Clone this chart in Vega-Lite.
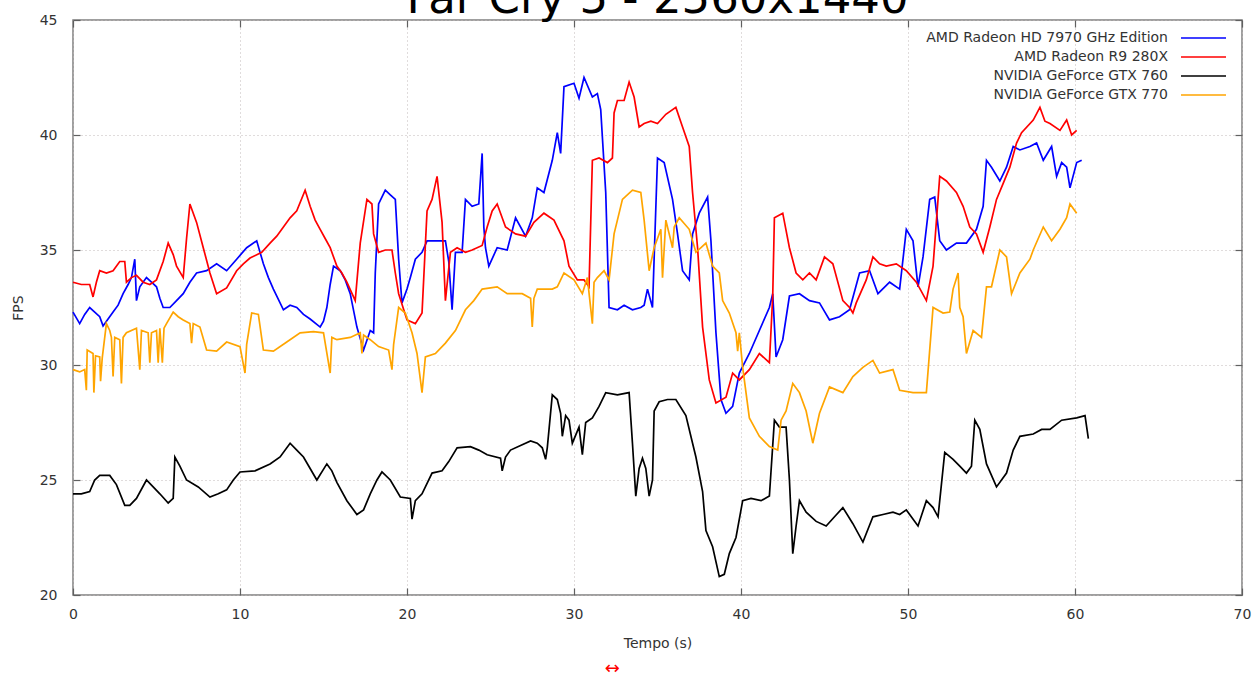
{
  "$schema": "https://vega.github.io/schema/vega-lite/v6.json",
  "width": 1169,
  "height": 575,
  "autosize": "none",
  "padding": {"left": 73, "top": 20, "right": 15, "bottom": 80},
  "background": "white",
  "title": {
    "text": "Far Cry 5 - 2560x1440",
    "font": "DejaVu Sans",
    "fontSize": 45,
    "fontWeight": "normal",
    "color": "#000000",
    "anchor": "middle",
    "baseline": "alphabetic",
    "frame": "group",
    "offset": -45
  },
  "config": {
    "view": {"stroke": "#808080", "strokeWidth": 1.5},
    "font": "DejaVu Sans",
    "axis": {
      "domain": false,
      "labelFont": "DejaVu Sans",
      "labelFontSize": 14,
      "labelColor": "#333333",
      "titleFont": "DejaVu Sans",
      "titleFontSize": 14,
      "titleFontWeight": "normal",
      "titleColor": "#333333",
      "tickColor": "#606060",
      "tickWidth": 1.2,
      "gridColor": "#c0b8b8",
      "gridDash": [1, 3],
      "gridWidth": 1
    }
  },
  "data": {
    "values": [
      {"card": "AMD Radeon HD 7970 GHz Edition", "t": 0, "fps": 32.3},
      {"card": "AMD Radeon HD 7970 GHz Edition", "t": 0.4, "fps": 31.8},
      {"card": "AMD Radeon HD 7970 GHz Edition", "t": 0.7, "fps": 32.2},
      {"card": "AMD Radeon HD 7970 GHz Edition", "t": 1.0, "fps": 32.5},
      {"card": "AMD Radeon HD 7970 GHz Edition", "t": 1.3, "fps": 32.3},
      {"card": "AMD Radeon HD 7970 GHz Edition", "t": 1.6, "fps": 32.1},
      {"card": "AMD Radeon HD 7970 GHz Edition", "t": 1.8, "fps": 31.7},
      {"card": "AMD Radeon HD 7970 GHz Edition", "t": 2.1, "fps": 32.0},
      {"card": "AMD Radeon HD 7970 GHz Edition", "t": 2.4, "fps": 32.3},
      {"card": "AMD Radeon HD 7970 GHz Edition", "t": 2.7, "fps": 32.6},
      {"card": "AMD Radeon HD 7970 GHz Edition", "t": 3.0, "fps": 33.1},
      {"card": "AMD Radeon HD 7970 GHz Edition", "t": 3.3, "fps": 33.5},
      {"card": "AMD Radeon HD 7970 GHz Edition", "t": 3.5, "fps": 33.8},
      {"card": "AMD Radeon HD 7970 GHz Edition", "t": 3.7, "fps": 34.6},
      {"card": "AMD Radeon HD 7970 GHz Edition", "t": 3.8, "fps": 32.8},
      {"card": "AMD Radeon HD 7970 GHz Edition", "t": 4.0, "fps": 33.4},
      {"card": "AMD Radeon HD 7970 GHz Edition", "t": 4.4, "fps": 33.8},
      {"card": "AMD Radeon HD 7970 GHz Edition", "t": 4.7, "fps": 33.6},
      {"card": "AMD Radeon HD 7970 GHz Edition", "t": 5.0, "fps": 33.4},
      {"card": "AMD Radeon HD 7970 GHz Edition", "t": 5.2, "fps": 32.9},
      {"card": "AMD Radeon HD 7970 GHz Edition", "t": 5.4, "fps": 32.5},
      {"card": "AMD Radeon HD 7970 GHz Edition", "t": 5.8, "fps": 32.5},
      {"card": "AMD Radeon HD 7970 GHz Edition", "t": 6.2, "fps": 32.8},
      {"card": "AMD Radeon HD 7970 GHz Edition", "t": 6.6, "fps": 33.1},
      {"card": "AMD Radeon HD 7970 GHz Edition", "t": 7.0, "fps": 33.6},
      {"card": "AMD Radeon HD 7970 GHz Edition", "t": 7.4, "fps": 34.0},
      {"card": "AMD Radeon HD 7970 GHz Edition", "t": 8.0, "fps": 34.1},
      {"card": "AMD Radeon HD 7970 GHz Edition", "t": 8.6, "fps": 34.4},
      {"card": "AMD Radeon HD 7970 GHz Edition", "t": 9.2, "fps": 34.1},
      {"card": "AMD Radeon HD 7970 GHz Edition", "t": 9.8, "fps": 34.6},
      {"card": "AMD Radeon HD 7970 GHz Edition", "t": 10.4, "fps": 35.1},
      {"card": "AMD Radeon HD 7970 GHz Edition", "t": 11.0, "fps": 35.4},
      {"card": "AMD Radeon HD 7970 GHz Edition", "t": 11.4, "fps": 34.4},
      {"card": "AMD Radeon HD 7970 GHz Edition", "t": 11.7, "fps": 33.8},
      {"card": "AMD Radeon HD 7970 GHz Edition", "t": 12.0, "fps": 33.3},
      {"card": "AMD Radeon HD 7970 GHz Edition", "t": 12.6, "fps": 32.4},
      {"card": "AMD Radeon HD 7970 GHz Edition", "t": 13.0, "fps": 32.6},
      {"card": "AMD Radeon HD 7970 GHz Edition", "t": 13.4, "fps": 32.5},
      {"card": "AMD Radeon HD 7970 GHz Edition", "t": 13.8, "fps": 32.2},
      {"card": "AMD Radeon HD 7970 GHz Edition", "t": 14.2, "fps": 32.0},
      {"card": "AMD Radeon HD 7970 GHz Edition", "t": 14.8, "fps": 31.65},
      {"card": "AMD Radeon HD 7970 GHz Edition", "t": 15.0, "fps": 31.9},
      {"card": "AMD Radeon HD 7970 GHz Edition", "t": 15.2, "fps": 32.5},
      {"card": "AMD Radeon HD 7970 GHz Edition", "t": 15.4, "fps": 33.5},
      {"card": "AMD Radeon HD 7970 GHz Edition", "t": 15.6, "fps": 34.3},
      {"card": "AMD Radeon HD 7970 GHz Edition", "t": 16.0, "fps": 34.1},
      {"card": "AMD Radeon HD 7970 GHz Edition", "t": 16.3, "fps": 33.7},
      {"card": "AMD Radeon HD 7970 GHz Edition", "t": 16.6, "fps": 33.1},
      {"card": "AMD Radeon HD 7970 GHz Edition", "t": 17.0, "fps": 31.65},
      {"card": "AMD Radeon HD 7970 GHz Edition", "t": 17.4, "fps": 30.65},
      {"card": "AMD Radeon HD 7970 GHz Edition", "t": 17.8, "fps": 31.5},
      {"card": "AMD Radeon HD 7970 GHz Edition", "t": 18.0, "fps": 31.4},
      {"card": "AMD Radeon HD 7970 GHz Edition", "t": 18.1, "fps": 34.0},
      {"card": "AMD Radeon HD 7970 GHz Edition", "t": 18.3, "fps": 37.0},
      {"card": "AMD Radeon HD 7970 GHz Edition", "t": 18.7, "fps": 37.6},
      {"card": "AMD Radeon HD 7970 GHz Edition", "t": 19.0, "fps": 37.4},
      {"card": "AMD Radeon HD 7970 GHz Edition", "t": 19.3, "fps": 37.2},
      {"card": "AMD Radeon HD 7970 GHz Edition", "t": 19.5, "fps": 34.6},
      {"card": "AMD Radeon HD 7970 GHz Edition", "t": 19.7, "fps": 32.7},
      {"card": "AMD Radeon HD 7970 GHz Edition", "t": 20.0, "fps": 33.3},
      {"card": "AMD Radeon HD 7970 GHz Edition", "t": 20.2, "fps": 33.8},
      {"card": "AMD Radeon HD 7970 GHz Edition", "t": 20.5, "fps": 34.6},
      {"card": "AMD Radeon HD 7970 GHz Edition", "t": 20.9, "fps": 34.9},
      {"card": "AMD Radeon HD 7970 GHz Edition", "t": 21.2, "fps": 35.4},
      {"card": "AMD Radeon HD 7970 GHz Edition", "t": 21.8, "fps": 35.4},
      {"card": "AMD Radeon HD 7970 GHz Edition", "t": 22.3, "fps": 35.4},
      {"card": "AMD Radeon HD 7970 GHz Edition", "t": 22.5, "fps": 34.5},
      {"card": "AMD Radeon HD 7970 GHz Edition", "t": 22.7, "fps": 32.4},
      {"card": "AMD Radeon HD 7970 GHz Edition", "t": 22.9, "fps": 34.9},
      {"card": "AMD Radeon HD 7970 GHz Edition", "t": 23.3, "fps": 34.9},
      {"card": "AMD Radeon HD 7970 GHz Edition", "t": 23.5, "fps": 37.2},
      {"card": "AMD Radeon HD 7970 GHz Edition", "t": 23.9, "fps": 36.9},
      {"card": "AMD Radeon HD 7970 GHz Edition", "t": 24.3, "fps": 37.0},
      {"card": "AMD Radeon HD 7970 GHz Edition", "t": 24.5, "fps": 39.2},
      {"card": "AMD Radeon HD 7970 GHz Edition", "t": 24.6, "fps": 36.0},
      {"card": "AMD Radeon HD 7970 GHz Edition", "t": 24.7, "fps": 35.1},
      {"card": "AMD Radeon HD 7970 GHz Edition", "t": 24.9, "fps": 34.3},
      {"card": "AMD Radeon HD 7970 GHz Edition", "t": 25.4, "fps": 35.1},
      {"card": "AMD Radeon HD 7970 GHz Edition", "t": 26.0, "fps": 35.0},
      {"card": "AMD Radeon HD 7970 GHz Edition", "t": 26.5, "fps": 36.4},
      {"card": "AMD Radeon HD 7970 GHz Edition", "t": 27.1, "fps": 35.6},
      {"card": "AMD Radeon HD 7970 GHz Edition", "t": 27.5, "fps": 36.4},
      {"card": "AMD Radeon HD 7970 GHz Edition", "t": 27.8, "fps": 37.7},
      {"card": "AMD Radeon HD 7970 GHz Edition", "t": 28.2, "fps": 37.5},
      {"card": "AMD Radeon HD 7970 GHz Edition", "t": 28.7, "fps": 38.9},
      {"card": "AMD Radeon HD 7970 GHz Edition", "t": 29.0, "fps": 40.1},
      {"card": "AMD Radeon HD 7970 GHz Edition", "t": 29.2, "fps": 39.2},
      {"card": "AMD Radeon HD 7970 GHz Edition", "t": 29.4, "fps": 42.1},
      {"card": "AMD Radeon HD 7970 GHz Edition", "t": 30.0, "fps": 42.25},
      {"card": "AMD Radeon HD 7970 GHz Edition", "t": 30.3, "fps": 41.6},
      {"card": "AMD Radeon HD 7970 GHz Edition", "t": 30.6, "fps": 42.5},
      {"card": "AMD Radeon HD 7970 GHz Edition", "t": 31.1, "fps": 41.65},
      {"card": "AMD Radeon HD 7970 GHz Edition", "t": 31.4, "fps": 41.8},
      {"card": "AMD Radeon HD 7970 GHz Edition", "t": 31.6, "fps": 41.1},
      {"card": "AMD Radeon HD 7970 GHz Edition", "t": 31.9, "fps": 37.5},
      {"card": "AMD Radeon HD 7970 GHz Edition", "t": 32.1, "fps": 32.5},
      {"card": "AMD Radeon HD 7970 GHz Edition", "t": 32.6, "fps": 32.4},
      {"card": "AMD Radeon HD 7970 GHz Edition", "t": 33.0, "fps": 32.6},
      {"card": "AMD Radeon HD 7970 GHz Edition", "t": 33.5, "fps": 32.4},
      {"card": "AMD Radeon HD 7970 GHz Edition", "t": 34.0, "fps": 32.5},
      {"card": "AMD Radeon HD 7970 GHz Edition", "t": 34.2, "fps": 32.6},
      {"card": "AMD Radeon HD 7970 GHz Edition", "t": 34.4, "fps": 33.3},
      {"card": "AMD Radeon HD 7970 GHz Edition", "t": 34.7, "fps": 32.5},
      {"card": "AMD Radeon HD 7970 GHz Edition", "t": 35.0, "fps": 39.0},
      {"card": "AMD Radeon HD 7970 GHz Edition", "t": 35.4, "fps": 38.8},
      {"card": "AMD Radeon HD 7970 GHz Edition", "t": 35.9, "fps": 37.2},
      {"card": "AMD Radeon HD 7970 GHz Edition", "t": 36.2, "fps": 35.7},
      {"card": "AMD Radeon HD 7970 GHz Edition", "t": 36.5, "fps": 34.1},
      {"card": "AMD Radeon HD 7970 GHz Edition", "t": 36.9, "fps": 33.7},
      {"card": "AMD Radeon HD 7970 GHz Edition", "t": 37.1, "fps": 35.7},
      {"card": "AMD Radeon HD 7970 GHz Edition", "t": 37.5, "fps": 36.6},
      {"card": "AMD Radeon HD 7970 GHz Edition", "t": 38.0, "fps": 37.3},
      {"card": "AMD Radeon HD 7970 GHz Edition", "t": 38.2, "fps": 35.4},
      {"card": "AMD Radeon HD 7970 GHz Edition", "t": 38.5, "fps": 31.4},
      {"card": "AMD Radeon HD 7970 GHz Edition", "t": 38.8, "fps": 28.5},
      {"card": "AMD Radeon HD 7970 GHz Edition", "t": 39.1, "fps": 27.9},
      {"card": "AMD Radeon HD 7970 GHz Edition", "t": 39.5, "fps": 28.2},
      {"card": "AMD Radeon HD 7970 GHz Edition", "t": 39.9, "fps": 29.65},
      {"card": "AMD Radeon HD 7970 GHz Edition", "t": 40.5, "fps": 30.5},
      {"card": "AMD Radeon HD 7970 GHz Edition", "t": 41.1, "fps": 31.5},
      {"card": "AMD Radeon HD 7970 GHz Edition", "t": 41.7, "fps": 32.5},
      {"card": "AMD Radeon HD 7970 GHz Edition", "t": 41.9, "fps": 33.1},
      {"card": "AMD Radeon HD 7970 GHz Edition", "t": 42.1, "fps": 30.35},
      {"card": "AMD Radeon HD 7970 GHz Edition", "t": 42.5, "fps": 31.1},
      {"card": "AMD Radeon HD 7970 GHz Edition", "t": 42.9, "fps": 33.0},
      {"card": "AMD Radeon HD 7970 GHz Edition", "t": 43.5, "fps": 33.1},
      {"card": "AMD Radeon HD 7970 GHz Edition", "t": 44.1, "fps": 32.8},
      {"card": "AMD Radeon HD 7970 GHz Edition", "t": 44.7, "fps": 32.7},
      {"card": "AMD Radeon HD 7970 GHz Edition", "t": 45.3, "fps": 31.96},
      {"card": "AMD Radeon HD 7970 GHz Edition", "t": 45.9, "fps": 32.1},
      {"card": "AMD Radeon HD 7970 GHz Edition", "t": 46.5, "fps": 32.4},
      {"card": "AMD Radeon HD 7970 GHz Edition", "t": 47.1, "fps": 34.0},
      {"card": "AMD Radeon HD 7970 GHz Edition", "t": 47.7, "fps": 34.1},
      {"card": "AMD Radeon HD 7970 GHz Edition", "t": 48.2, "fps": 33.1},
      {"card": "AMD Radeon HD 7970 GHz Edition", "t": 48.9, "fps": 33.6},
      {"card": "AMD Radeon HD 7970 GHz Edition", "t": 49.5, "fps": 33.3},
      {"card": "AMD Radeon HD 7970 GHz Edition", "t": 49.9, "fps": 35.9},
      {"card": "AMD Radeon HD 7970 GHz Edition", "t": 50.3, "fps": 35.4},
      {"card": "AMD Radeon HD 7970 GHz Edition", "t": 50.6, "fps": 33.4},
      {"card": "AMD Radeon HD 7970 GHz Edition", "t": 50.9, "fps": 34.7},
      {"card": "AMD Radeon HD 7970 GHz Edition", "t": 51.3, "fps": 37.2},
      {"card": "AMD Radeon HD 7970 GHz Edition", "t": 51.6, "fps": 37.3},
      {"card": "AMD Radeon HD 7970 GHz Edition", "t": 51.9, "fps": 35.4},
      {"card": "AMD Radeon HD 7970 GHz Edition", "t": 52.3, "fps": 35.0},
      {"card": "AMD Radeon HD 7970 GHz Edition", "t": 52.9, "fps": 35.3},
      {"card": "AMD Radeon HD 7970 GHz Edition", "t": 53.5, "fps": 35.3},
      {"card": "AMD Radeon HD 7970 GHz Edition", "t": 54.1, "fps": 35.9},
      {"card": "AMD Radeon HD 7970 GHz Edition", "t": 54.5, "fps": 36.9},
      {"card": "AMD Radeon HD 7970 GHz Edition", "t": 54.7, "fps": 38.9},
      {"card": "AMD Radeon HD 7970 GHz Edition", "t": 55.0, "fps": 38.6},
      {"card": "AMD Radeon HD 7970 GHz Edition", "t": 55.5, "fps": 38.0},
      {"card": "AMD Radeon HD 7970 GHz Edition", "t": 55.9, "fps": 38.6},
      {"card": "AMD Radeon HD 7970 GHz Edition", "t": 56.3, "fps": 39.5},
      {"card": "AMD Radeon HD 7970 GHz Edition", "t": 56.7, "fps": 39.35},
      {"card": "AMD Radeon HD 7970 GHz Edition", "t": 57.3, "fps": 39.5},
      {"card": "AMD Radeon HD 7970 GHz Edition", "t": 57.7, "fps": 39.65},
      {"card": "AMD Radeon HD 7970 GHz Edition", "t": 58.1, "fps": 38.9},
      {"card": "AMD Radeon HD 7970 GHz Edition", "t": 58.6, "fps": 39.5},
      {"card": "AMD Radeon HD 7970 GHz Edition", "t": 58.9, "fps": 38.2},
      {"card": "AMD Radeon HD 7970 GHz Edition", "t": 59.2, "fps": 38.8},
      {"card": "AMD Radeon HD 7970 GHz Edition", "t": 59.5, "fps": 38.6},
      {"card": "AMD Radeon HD 7970 GHz Edition", "t": 59.7, "fps": 37.7},
      {"card": "AMD Radeon HD 7970 GHz Edition", "t": 60.1, "fps": 38.8},
      {"card": "AMD Radeon HD 7970 GHz Edition", "t": 60.4, "fps": 38.9},

      {"card": "AMD Radeon R9 280X", "t": 0, "fps": 33.6},
      {"card": "AMD Radeon R9 280X", "t": 0.5, "fps": 33.5},
      {"card": "AMD Radeon R9 280X", "t": 1.0, "fps": 33.5},
      {"card": "AMD Radeon R9 280X", "t": 1.2, "fps": 32.96},
      {"card": "AMD Radeon R9 280X", "t": 1.4, "fps": 33.6},
      {"card": "AMD Radeon R9 280X", "t": 1.6, "fps": 34.1},
      {"card": "AMD Radeon R9 280X", "t": 2.0, "fps": 34.0},
      {"card": "AMD Radeon R9 280X", "t": 2.4, "fps": 34.1},
      {"card": "AMD Radeon R9 280X", "t": 2.8, "fps": 34.5},
      {"card": "AMD Radeon R9 280X", "t": 3.1, "fps": 34.5},
      {"card": "AMD Radeon R9 280X", "t": 3.2, "fps": 33.6},
      {"card": "AMD Radeon R9 280X", "t": 3.5, "fps": 33.8},
      {"card": "AMD Radeon R9 280X", "t": 3.8, "fps": 33.9},
      {"card": "AMD Radeon R9 280X", "t": 4.2, "fps": 33.6},
      {"card": "AMD Radeon R9 280X", "t": 4.6, "fps": 33.5},
      {"card": "AMD Radeon R9 280X", "t": 5.0, "fps": 33.7},
      {"card": "AMD Radeon R9 280X", "t": 5.4, "fps": 34.5},
      {"card": "AMD Radeon R9 280X", "t": 5.7, "fps": 35.3},
      {"card": "AMD Radeon R9 280X", "t": 6.0, "fps": 34.8},
      {"card": "AMD Radeon R9 280X", "t": 6.2, "fps": 34.3},
      {"card": "AMD Radeon R9 280X", "t": 6.6, "fps": 33.8},
      {"card": "AMD Radeon R9 280X", "t": 6.8, "fps": 35.5},
      {"card": "AMD Radeon R9 280X", "t": 7.0, "fps": 37.0},
      {"card": "AMD Radeon R9 280X", "t": 7.4, "fps": 36.2},
      {"card": "AMD Radeon R9 280X", "t": 7.8, "fps": 35.1},
      {"card": "AMD Radeon R9 280X", "t": 8.2, "fps": 34.0},
      {"card": "AMD Radeon R9 280X", "t": 8.6, "fps": 33.1},
      {"card": "AMD Radeon R9 280X", "t": 9.2, "fps": 33.35},
      {"card": "AMD Radeon R9 280X", "t": 9.8, "fps": 34.1},
      {"card": "AMD Radeon R9 280X", "t": 10.2, "fps": 34.4},
      {"card": "AMD Radeon R9 280X", "t": 10.6, "fps": 34.65},
      {"card": "AMD Radeon R9 280X", "t": 11.3, "fps": 34.9},
      {"card": "AMD Radeon R9 280X", "t": 11.8, "fps": 35.3},
      {"card": "AMD Radeon R9 280X", "t": 12.2, "fps": 35.6},
      {"card": "AMD Radeon R9 280X", "t": 12.6, "fps": 36.0},
      {"card": "AMD Radeon R9 280X", "t": 13.0, "fps": 36.4},
      {"card": "AMD Radeon R9 280X", "t": 13.4, "fps": 36.7},
      {"card": "AMD Radeon R9 280X", "t": 13.9, "fps": 37.6},
      {"card": "AMD Radeon R9 280X", "t": 14.2, "fps": 36.9},
      {"card": "AMD Radeon R9 280X", "t": 14.5, "fps": 36.3},
      {"card": "AMD Radeon R9 280X", "t": 14.8, "fps": 35.9},
      {"card": "AMD Radeon R9 280X", "t": 15.1, "fps": 35.5},
      {"card": "AMD Radeon R9 280X", "t": 15.4, "fps": 35.1},
      {"card": "AMD Radeon R9 280X", "t": 15.8, "fps": 34.3},
      {"card": "AMD Radeon R9 280X", "t": 16.1, "fps": 34.0},
      {"card": "AMD Radeon R9 280X", "t": 16.4, "fps": 33.6},
      {"card": "AMD Radeon R9 280X", "t": 16.9, "fps": 32.8},
      {"card": "AMD Radeon R9 280X", "t": 17.2, "fps": 35.3},
      {"card": "AMD Radeon R9 280X", "t": 17.6, "fps": 37.2},
      {"card": "AMD Radeon R9 280X", "t": 17.9, "fps": 37.0},
      {"card": "AMD Radeon R9 280X", "t": 18.0, "fps": 35.7},
      {"card": "AMD Radeon R9 280X", "t": 18.3, "fps": 34.9},
      {"card": "AMD Radeon R9 280X", "t": 18.7, "fps": 35.0},
      {"card": "AMD Radeon R9 280X", "t": 19.1, "fps": 35.0},
      {"card": "AMD Radeon R9 280X", "t": 19.3, "fps": 34.0},
      {"card": "AMD Radeon R9 280X", "t": 19.5, "fps": 33.1},
      {"card": "AMD Radeon R9 280X", "t": 20.0, "fps": 31.96},
      {"card": "AMD Radeon R9 280X", "t": 20.5, "fps": 31.8},
      {"card": "AMD Radeon R9 280X", "t": 20.9, "fps": 32.26},
      {"card": "AMD Radeon R9 280X", "t": 21.2, "fps": 36.7},
      {"card": "AMD Radeon R9 280X", "t": 21.5, "fps": 37.2},
      {"card": "AMD Radeon R9 280X", "t": 21.8, "fps": 38.2},
      {"card": "AMD Radeon R9 280X", "t": 22.1, "fps": 36.2},
      {"card": "AMD Radeon R9 280X", "t": 22.3, "fps": 32.8},
      {"card": "AMD Radeon R9 280X", "t": 22.6, "fps": 34.9},
      {"card": "AMD Radeon R9 280X", "t": 23.0, "fps": 35.1},
      {"card": "AMD Radeon R9 280X", "t": 23.5, "fps": 34.9},
      {"card": "AMD Radeon R9 280X", "t": 23.9, "fps": 35.0},
      {"card": "AMD Radeon R9 280X", "t": 24.5, "fps": 35.2},
      {"card": "AMD Radeon R9 280X", "t": 24.8, "fps": 36.0},
      {"card": "AMD Radeon R9 280X", "t": 25.1, "fps": 36.7},
      {"card": "AMD Radeon R9 280X", "t": 25.4, "fps": 37.0},
      {"card": "AMD Radeon R9 280X", "t": 25.9, "fps": 36.0},
      {"card": "AMD Radeon R9 280X", "t": 26.5, "fps": 35.7},
      {"card": "AMD Radeon R9 280X", "t": 27.1, "fps": 35.6},
      {"card": "AMD Radeon R9 280X", "t": 27.6, "fps": 36.2},
      {"card": "AMD Radeon R9 280X", "t": 28.2, "fps": 36.6},
      {"card": "AMD Radeon R9 280X", "t": 28.8, "fps": 36.3},
      {"card": "AMD Radeon R9 280X", "t": 29.4, "fps": 35.4},
      {"card": "AMD Radeon R9 280X", "t": 29.7, "fps": 34.3},
      {"card": "AMD Radeon R9 280X", "t": 30.2, "fps": 33.7},
      {"card": "AMD Radeon R9 280X", "t": 30.6, "fps": 33.7},
      {"card": "AMD Radeon R9 280X", "t": 30.9, "fps": 33.4},
      {"card": "AMD Radeon R9 280X", "t": 31.1, "fps": 38.9},
      {"card": "AMD Radeon R9 280X", "t": 31.5, "fps": 39.0},
      {"card": "AMD Radeon R9 280X", "t": 32.0, "fps": 38.8},
      {"card": "AMD Radeon R9 280X", "t": 32.3, "fps": 39.0},
      {"card": "AMD Radeon R9 280X", "t": 32.4, "fps": 40.96},
      {"card": "AMD Radeon R9 280X", "t": 32.6, "fps": 41.5},
      {"card": "AMD Radeon R9 280X", "t": 33.0, "fps": 41.5},
      {"card": "AMD Radeon R9 280X", "t": 33.3, "fps": 42.3},
      {"card": "AMD Radeon R9 280X", "t": 33.6, "fps": 41.65},
      {"card": "AMD Radeon R9 280X", "t": 33.9, "fps": 40.35},
      {"card": "AMD Radeon R9 280X", "t": 34.2, "fps": 40.5},
      {"card": "AMD Radeon R9 280X", "t": 34.6, "fps": 40.6},
      {"card": "AMD Radeon R9 280X", "t": 35.0, "fps": 40.5},
      {"card": "AMD Radeon R9 280X", "t": 35.5, "fps": 40.9},
      {"card": "AMD Radeon R9 280X", "t": 36.1, "fps": 41.2},
      {"card": "AMD Radeon R9 280X", "t": 36.5, "fps": 40.35},
      {"card": "AMD Radeon R9 280X", "t": 36.9, "fps": 39.5},
      {"card": "AMD Radeon R9 280X", "t": 37.1, "fps": 37.5},
      {"card": "AMD Radeon R9 280X", "t": 37.4, "fps": 35.1},
      {"card": "AMD Radeon R9 280X", "t": 37.7, "fps": 31.65},
      {"card": "AMD Radeon R9 280X", "t": 38.1, "fps": 29.35},
      {"card": "AMD Radeon R9 280X", "t": 38.5, "fps": 28.35},
      {"card": "AMD Radeon R9 280X", "t": 39.1, "fps": 28.6},
      {"card": "AMD Radeon R9 280X", "t": 39.5, "fps": 29.65},
      {"card": "AMD Radeon R9 280X", "t": 39.9, "fps": 29.35},
      {"card": "AMD Radeon R9 280X", "t": 40.5, "fps": 29.8},
      {"card": "AMD Radeon R9 280X", "t": 41.1, "fps": 30.5},
      {"card": "AMD Radeon R9 280X", "t": 41.7, "fps": 30.1},
      {"card": "AMD Radeon R9 280X", "t": 41.9, "fps": 33.0},
      {"card": "AMD Radeon R9 280X", "t": 42.0, "fps": 36.4},
      {"card": "AMD Radeon R9 280X", "t": 42.5, "fps": 36.6},
      {"card": "AMD Radeon R9 280X", "t": 42.9, "fps": 35.1},
      {"card": "AMD Radeon R9 280X", "t": 43.3, "fps": 34.0},
      {"card": "AMD Radeon R9 280X", "t": 43.7, "fps": 33.7},
      {"card": "AMD Radeon R9 280X", "t": 44.1, "fps": 34.0},
      {"card": "AMD Radeon R9 280X", "t": 44.5, "fps": 33.7},
      {"card": "AMD Radeon R9 280X", "t": 45.0, "fps": 34.7},
      {"card": "AMD Radeon R9 280X", "t": 45.5, "fps": 34.4},
      {"card": "AMD Radeon R9 280X", "t": 46.1, "fps": 32.8},
      {"card": "AMD Radeon R9 280X", "t": 46.5, "fps": 32.5},
      {"card": "AMD Radeon R9 280X", "t": 46.7, "fps": 32.26},
      {"card": "AMD Radeon R9 280X", "t": 46.9, "fps": 32.7},
      {"card": "AMD Radeon R9 280X", "t": 47.5, "fps": 33.7},
      {"card": "AMD Radeon R9 280X", "t": 47.9, "fps": 34.7},
      {"card": "AMD Radeon R9 280X", "t": 48.3, "fps": 34.4},
      {"card": "AMD Radeon R9 280X", "t": 48.7, "fps": 34.3},
      {"card": "AMD Radeon R9 280X", "t": 49.3, "fps": 34.4},
      {"card": "AMD Radeon R9 280X", "t": 49.9, "fps": 34.1},
      {"card": "AMD Radeon R9 280X", "t": 50.5, "fps": 33.6},
      {"card": "AMD Radeon R9 280X", "t": 51.1, "fps": 32.8},
      {"card": "AMD Radeon R9 280X", "t": 51.5, "fps": 34.3},
      {"card": "AMD Radeon R9 280X", "t": 51.9, "fps": 38.2},
      {"card": "AMD Radeon R9 280X", "t": 52.3, "fps": 38.0},
      {"card": "AMD Radeon R9 280X", "t": 52.9, "fps": 37.5},
      {"card": "AMD Radeon R9 280X", "t": 53.3, "fps": 36.9},
      {"card": "AMD Radeon R9 280X", "t": 53.7, "fps": 36.0},
      {"card": "AMD Radeon R9 280X", "t": 54.1, "fps": 35.7},
      {"card": "AMD Radeon R9 280X", "t": 54.5, "fps": 34.9},
      {"card": "AMD Radeon R9 280X", "t": 54.9, "fps": 36.0},
      {"card": "AMD Radeon R9 280X", "t": 55.3, "fps": 37.2},
      {"card": "AMD Radeon R9 280X", "t": 55.7, "fps": 37.9},
      {"card": "AMD Radeon R9 280X", "t": 56.1, "fps": 38.6},
      {"card": "AMD Radeon R9 280X", "t": 56.5, "fps": 39.65},
      {"card": "AMD Radeon R9 280X", "t": 56.8, "fps": 40.1},
      {"card": "AMD Radeon R9 280X", "t": 57.5, "fps": 40.65},
      {"card": "AMD Radeon R9 280X", "t": 57.9, "fps": 41.2},
      {"card": "AMD Radeon R9 280X", "t": 58.2, "fps": 40.6},
      {"card": "AMD Radeon R9 280X", "t": 58.5, "fps": 40.5},
      {"card": "AMD Radeon R9 280X", "t": 59.1, "fps": 40.2},
      {"card": "AMD Radeon R9 280X", "t": 59.5, "fps": 40.65},
      {"card": "AMD Radeon R9 280X", "t": 59.8, "fps": 40.0},
      {"card": "AMD Radeon R9 280X", "t": 60.1, "fps": 40.2},

      {"card": "NVIDIA GeForce GTX 760", "t": 0, "fps": 24.4},
      {"card": "NVIDIA GeForce GTX 760", "t": 0.5, "fps": 24.4},
      {"card": "NVIDIA GeForce GTX 760", "t": 1.0, "fps": 24.5},
      {"card": "NVIDIA GeForce GTX 760", "t": 1.3, "fps": 25.0},
      {"card": "NVIDIA GeForce GTX 760", "t": 1.6, "fps": 25.2},
      {"card": "NVIDIA GeForce GTX 760", "t": 2.2, "fps": 25.2},
      {"card": "NVIDIA GeForce GTX 760", "t": 2.6, "fps": 24.8},
      {"card": "NVIDIA GeForce GTX 760", "t": 3.1, "fps": 23.9},
      {"card": "NVIDIA GeForce GTX 760", "t": 3.4, "fps": 23.9},
      {"card": "NVIDIA GeForce GTX 760", "t": 3.8, "fps": 24.2},
      {"card": "NVIDIA GeForce GTX 760", "t": 4.4, "fps": 25.0},
      {"card": "NVIDIA GeForce GTX 760", "t": 4.8, "fps": 24.7},
      {"card": "NVIDIA GeForce GTX 760", "t": 5.2, "fps": 24.4},
      {"card": "NVIDIA GeForce GTX 760", "t": 5.7, "fps": 24.0},
      {"card": "NVIDIA GeForce GTX 760", "t": 6.0, "fps": 24.2},
      {"card": "NVIDIA GeForce GTX 760", "t": 6.1, "fps": 26.0},
      {"card": "NVIDIA GeForce GTX 760", "t": 6.4, "fps": 25.6},
      {"card": "NVIDIA GeForce GTX 760", "t": 6.8, "fps": 25.0},
      {"card": "NVIDIA GeForce GTX 760", "t": 7.5, "fps": 24.7},
      {"card": "NVIDIA GeForce GTX 760", "t": 8.2, "fps": 24.26},
      {"card": "NVIDIA GeForce GTX 760", "t": 8.7, "fps": 24.4},
      {"card": "NVIDIA GeForce GTX 760", "t": 9.2, "fps": 24.57},
      {"card": "NVIDIA GeForce GTX 760", "t": 9.6, "fps": 25.0},
      {"card": "NVIDIA GeForce GTX 760", "t": 10.0, "fps": 25.35},
      {"card": "NVIDIA GeForce GTX 760", "t": 10.9, "fps": 25.4},
      {"card": "NVIDIA GeForce GTX 760", "t": 11.8, "fps": 25.7},
      {"card": "NVIDIA GeForce GTX 760", "t": 12.4, "fps": 26.0},
      {"card": "NVIDIA GeForce GTX 760", "t": 13.0, "fps": 26.6},
      {"card": "NVIDIA GeForce GTX 760", "t": 13.4, "fps": 26.3},
      {"card": "NVIDIA GeForce GTX 760", "t": 13.8, "fps": 26.0},
      {"card": "NVIDIA GeForce GTX 760", "t": 14.2, "fps": 25.5},
      {"card": "NVIDIA GeForce GTX 760", "t": 14.6, "fps": 25.0},
      {"card": "NVIDIA GeForce GTX 760", "t": 15.2, "fps": 25.7},
      {"card": "NVIDIA GeForce GTX 760", "t": 15.5, "fps": 25.4},
      {"card": "NVIDIA GeForce GTX 760", "t": 15.8, "fps": 24.9},
      {"card": "NVIDIA GeForce GTX 760", "t": 16.4, "fps": 24.1},
      {"card": "NVIDIA GeForce GTX 760", "t": 17.0, "fps": 23.5},
      {"card": "NVIDIA GeForce GTX 760", "t": 17.4, "fps": 23.7},
      {"card": "NVIDIA GeForce GTX 760", "t": 17.8, "fps": 24.4},
      {"card": "NVIDIA GeForce GTX 760", "t": 18.2, "fps": 25.0},
      {"card": "NVIDIA GeForce GTX 760", "t": 18.5, "fps": 25.35},
      {"card": "NVIDIA GeForce GTX 760", "t": 19.0, "fps": 25.0},
      {"card": "NVIDIA GeForce GTX 760", "t": 19.6, "fps": 24.26},
      {"card": "NVIDIA GeForce GTX 760", "t": 20.2, "fps": 24.2},
      {"card": "NVIDIA GeForce GTX 760", "t": 20.3, "fps": 23.3},
      {"card": "NVIDIA GeForce GTX 760", "t": 20.5, "fps": 24.1},
      {"card": "NVIDIA GeForce GTX 760", "t": 20.9, "fps": 24.4},
      {"card": "NVIDIA GeForce GTX 760", "t": 21.5, "fps": 25.3},
      {"card": "NVIDIA GeForce GTX 760", "t": 22.1, "fps": 25.4},
      {"card": "NVIDIA GeForce GTX 760", "t": 22.5, "fps": 25.8},
      {"card": "NVIDIA GeForce GTX 760", "t": 23.0, "fps": 26.4},
      {"card": "NVIDIA GeForce GTX 760", "t": 23.8, "fps": 26.45},
      {"card": "NVIDIA GeForce GTX 760", "t": 24.3, "fps": 26.3},
      {"card": "NVIDIA GeForce GTX 760", "t": 24.8, "fps": 26.1},
      {"card": "NVIDIA GeForce GTX 760", "t": 25.6, "fps": 25.95},
      {"card": "NVIDIA GeForce GTX 760", "t": 25.7, "fps": 25.4},
      {"card": "NVIDIA GeForce GTX 760", "t": 25.9, "fps": 26.0},
      {"card": "NVIDIA GeForce GTX 760", "t": 26.2, "fps": 26.3},
      {"card": "NVIDIA GeForce GTX 760", "t": 26.8, "fps": 26.5},
      {"card": "NVIDIA GeForce GTX 760", "t": 27.4, "fps": 26.7},
      {"card": "NVIDIA GeForce GTX 760", "t": 27.8, "fps": 26.6},
      {"card": "NVIDIA GeForce GTX 760", "t": 28.1, "fps": 26.4},
      {"card": "NVIDIA GeForce GTX 760", "t": 28.3, "fps": 25.9},
      {"card": "NVIDIA GeForce GTX 760", "t": 28.4, "fps": 26.4},
      {"card": "NVIDIA GeForce GTX 760", "t": 28.7, "fps": 28.7},
      {"card": "NVIDIA GeForce GTX 760", "t": 29.0, "fps": 28.5},
      {"card": "NVIDIA GeForce GTX 760", "t": 29.2, "fps": 27.9},
      {"card": "NVIDIA GeForce GTX 760", "t": 29.3, "fps": 26.9},
      {"card": "NVIDIA GeForce GTX 760", "t": 29.5, "fps": 27.8},
      {"card": "NVIDIA GeForce GTX 760", "t": 29.7, "fps": 27.6},
      {"card": "NVIDIA GeForce GTX 760", "t": 29.9, "fps": 26.6},
      {"card": "NVIDIA GeForce GTX 760", "t": 30.3, "fps": 27.3},
      {"card": "NVIDIA GeForce GTX 760", "t": 30.5, "fps": 26.1},
      {"card": "NVIDIA GeForce GTX 760", "t": 30.7, "fps": 27.5},
      {"card": "NVIDIA GeForce GTX 760", "t": 31.1, "fps": 27.7},
      {"card": "NVIDIA GeForce GTX 760", "t": 31.5, "fps": 28.2},
      {"card": "NVIDIA GeForce GTX 760", "t": 31.9, "fps": 28.8},
      {"card": "NVIDIA GeForce GTX 760", "t": 32.6, "fps": 28.7},
      {"card": "NVIDIA GeForce GTX 760", "t": 33.3, "fps": 28.8},
      {"card": "NVIDIA GeForce GTX 760", "t": 33.5, "fps": 26.6},
      {"card": "NVIDIA GeForce GTX 760", "t": 33.7, "fps": 24.3},
      {"card": "NVIDIA GeForce GTX 760", "t": 33.9, "fps": 25.5},
      {"card": "NVIDIA GeForce GTX 760", "t": 34.1, "fps": 25.95},
      {"card": "NVIDIA GeForce GTX 760", "t": 34.3, "fps": 25.5},
      {"card": "NVIDIA GeForce GTX 760", "t": 34.5, "fps": 24.3},
      {"card": "NVIDIA GeForce GTX 760", "t": 34.7, "fps": 25.0},
      {"card": "NVIDIA GeForce GTX 760", "t": 34.8, "fps": 28.0},
      {"card": "NVIDIA GeForce GTX 760", "t": 35.1, "fps": 28.4},
      {"card": "NVIDIA GeForce GTX 760", "t": 35.6, "fps": 28.5},
      {"card": "NVIDIA GeForce GTX 760", "t": 36.1, "fps": 28.5},
      {"card": "NVIDIA GeForce GTX 760", "t": 36.7, "fps": 27.8},
      {"card": "NVIDIA GeForce GTX 760", "t": 37.1, "fps": 26.6},
      {"card": "NVIDIA GeForce GTX 760", "t": 37.3, "fps": 26.0},
      {"card": "NVIDIA GeForce GTX 760", "t": 37.7, "fps": 24.5},
      {"card": "NVIDIA GeForce GTX 760", "t": 37.9, "fps": 22.8},
      {"card": "NVIDIA GeForce GTX 760", "t": 38.3, "fps": 22.1},
      {"card": "NVIDIA GeForce GTX 760", "t": 38.7, "fps": 20.8},
      {"card": "NVIDIA GeForce GTX 760", "t": 39.0, "fps": 20.9},
      {"card": "NVIDIA GeForce GTX 760", "t": 39.3, "fps": 21.8},
      {"card": "NVIDIA GeForce GTX 760", "t": 39.7, "fps": 22.5},
      {"card": "NVIDIA GeForce GTX 760", "t": 40.1, "fps": 24.1},
      {"card": "NVIDIA GeForce GTX 760", "t": 40.6, "fps": 24.2},
      {"card": "NVIDIA GeForce GTX 760", "t": 41.2, "fps": 24.1},
      {"card": "NVIDIA GeForce GTX 760", "t": 41.7, "fps": 24.3},
      {"card": "NVIDIA GeForce GTX 760", "t": 42.0, "fps": 27.6},
      {"card": "NVIDIA GeForce GTX 760", "t": 42.3, "fps": 27.3},
      {"card": "NVIDIA GeForce GTX 760", "t": 42.7, "fps": 27.3},
      {"card": "NVIDIA GeForce GTX 760", "t": 42.9, "fps": 25.0},
      {"card": "NVIDIA GeForce GTX 760", "t": 43.1, "fps": 21.8},
      {"card": "NVIDIA GeForce GTX 760", "t": 43.3, "fps": 23.0},
      {"card": "NVIDIA GeForce GTX 760", "t": 43.5, "fps": 24.1},
      {"card": "NVIDIA GeForce GTX 760", "t": 43.9, "fps": 23.6},
      {"card": "NVIDIA GeForce GTX 760", "t": 44.5, "fps": 23.2},
      {"card": "NVIDIA GeForce GTX 760", "t": 45.1, "fps": 23.0},
      {"card": "NVIDIA GeForce GTX 760", "t": 45.6, "fps": 23.4},
      {"card": "NVIDIA GeForce GTX 760", "t": 46.1, "fps": 23.8},
      {"card": "NVIDIA GeForce GTX 760", "t": 46.7, "fps": 23.1},
      {"card": "NVIDIA GeForce GTX 760", "t": 47.3, "fps": 22.3},
      {"card": "NVIDIA GeForce GTX 760", "t": 47.9, "fps": 23.4},
      {"card": "NVIDIA GeForce GTX 760", "t": 48.5, "fps": 23.5},
      {"card": "NVIDIA GeForce GTX 760", "t": 49.1, "fps": 23.6},
      {"card": "NVIDIA GeForce GTX 760", "t": 49.5, "fps": 23.5},
      {"card": "NVIDIA GeForce GTX 760", "t": 49.9, "fps": 23.7},
      {"card": "NVIDIA GeForce GTX 760", "t": 50.6, "fps": 23.0},
      {"card": "NVIDIA GeForce GTX 760", "t": 51.1, "fps": 24.1},
      {"card": "NVIDIA GeForce GTX 760", "t": 51.5, "fps": 23.8},
      {"card": "NVIDIA GeForce GTX 760", "t": 51.8, "fps": 23.4},
      {"card": "NVIDIA GeForce GTX 760", "t": 52.2, "fps": 26.2},
      {"card": "NVIDIA GeForce GTX 760", "t": 52.7, "fps": 25.9},
      {"card": "NVIDIA GeForce GTX 760", "t": 53.1, "fps": 25.6},
      {"card": "NVIDIA GeForce GTX 760", "t": 53.5, "fps": 25.3},
      {"card": "NVIDIA GeForce GTX 760", "t": 53.8, "fps": 25.6},
      {"card": "NVIDIA GeForce GTX 760", "t": 54.0, "fps": 27.6},
      {"card": "NVIDIA GeForce GTX 760", "t": 54.3, "fps": 27.2},
      {"card": "NVIDIA GeForce GTX 760", "t": 54.7, "fps": 25.7},
      {"card": "NVIDIA GeForce GTX 760", "t": 55.3, "fps": 24.7},
      {"card": "NVIDIA GeForce GTX 760", "t": 55.9, "fps": 25.3},
      {"card": "NVIDIA GeForce GTX 760", "t": 56.3, "fps": 26.3},
      {"card": "NVIDIA GeForce GTX 760", "t": 56.7, "fps": 26.9},
      {"card": "NVIDIA GeForce GTX 760", "t": 57.5, "fps": 27.0},
      {"card": "NVIDIA GeForce GTX 760", "t": 58.0, "fps": 27.2},
      {"card": "NVIDIA GeForce GTX 760", "t": 58.5, "fps": 27.2},
      {"card": "NVIDIA GeForce GTX 760", "t": 59.2, "fps": 27.6},
      {"card": "NVIDIA GeForce GTX 760", "t": 60.1, "fps": 27.7},
      {"card": "NVIDIA GeForce GTX 760", "t": 60.6, "fps": 27.8},
      {"card": "NVIDIA GeForce GTX 760", "t": 60.8, "fps": 26.8},

      {"card": "NVIDIA GeForce GTX 770", "t": 0, "fps": 29.8},
      {"card": "NVIDIA GeForce GTX 770", "t": 0.4, "fps": 29.7},
      {"card": "NVIDIA GeForce GTX 770", "t": 0.7, "fps": 29.8},
      {"card": "NVIDIA GeForce GTX 770", "t": 0.8, "fps": 28.9},
      {"card": "NVIDIA GeForce GTX 770", "t": 0.85, "fps": 30.65},
      {"card": "NVIDIA GeForce GTX 770", "t": 1.2, "fps": 30.5},
      {"card": "NVIDIA GeForce GTX 770", "t": 1.25, "fps": 28.8},
      {"card": "NVIDIA GeForce GTX 770", "t": 1.35, "fps": 30.4},
      {"card": "NVIDIA GeForce GTX 770", "t": 1.6, "fps": 30.35},
      {"card": "NVIDIA GeForce GTX 770", "t": 1.65, "fps": 29.3},
      {"card": "NVIDIA GeForce GTX 770", "t": 1.75, "fps": 30.3},
      {"card": "NVIDIA GeForce GTX 770", "t": 2.0, "fps": 31.8},
      {"card": "NVIDIA GeForce GTX 770", "t": 2.2, "fps": 31.5},
      {"card": "NVIDIA GeForce GTX 770", "t": 2.3, "fps": 31.2},
      {"card": "NVIDIA GeForce GTX 770", "t": 2.4, "fps": 29.5},
      {"card": "NVIDIA GeForce GTX 770", "t": 2.5, "fps": 31.2},
      {"card": "NVIDIA GeForce GTX 770", "t": 2.8, "fps": 31.1},
      {"card": "NVIDIA GeForce GTX 770", "t": 2.9, "fps": 29.2},
      {"card": "NVIDIA GeForce GTX 770", "t": 3.0, "fps": 31.2},
      {"card": "NVIDIA GeForce GTX 770", "t": 3.2, "fps": 31.4},
      {"card": "NVIDIA GeForce GTX 770", "t": 3.8, "fps": 31.6},
      {"card": "NVIDIA GeForce GTX 770", "t": 4.0, "fps": 29.8},
      {"card": "NVIDIA GeForce GTX 770", "t": 4.1, "fps": 31.5},
      {"card": "NVIDIA GeForce GTX 770", "t": 4.5, "fps": 31.4},
      {"card": "NVIDIA GeForce GTX 770", "t": 4.6, "fps": 30.1},
      {"card": "NVIDIA GeForce GTX 770", "t": 4.7, "fps": 31.4},
      {"card": "NVIDIA GeForce GTX 770", "t": 5.0, "fps": 31.5},
      {"card": "NVIDIA GeForce GTX 770", "t": 5.1, "fps": 30.1},
      {"card": "NVIDIA GeForce GTX 770", "t": 5.2, "fps": 31.6},
      {"card": "NVIDIA GeForce GTX 770", "t": 5.35, "fps": 30.1},
      {"card": "NVIDIA GeForce GTX 770", "t": 5.45, "fps": 31.6},
      {"card": "NVIDIA GeForce GTX 770", "t": 5.6, "fps": 31.8},
      {"card": "NVIDIA GeForce GTX 770", "t": 6.0, "fps": 32.3},
      {"card": "NVIDIA GeForce GTX 770", "t": 6.3, "fps": 32.1},
      {"card": "NVIDIA GeForce GTX 770", "t": 6.6, "fps": 31.96},
      {"card": "NVIDIA GeForce GTX 770", "t": 7.0, "fps": 31.8},
      {"card": "NVIDIA GeForce GTX 770", "t": 7.1, "fps": 30.95},
      {"card": "NVIDIA GeForce GTX 770", "t": 7.2, "fps": 31.8},
      {"card": "NVIDIA GeForce GTX 770", "t": 7.6, "fps": 31.65},
      {"card": "NVIDIA GeForce GTX 770", "t": 8.0, "fps": 30.65},
      {"card": "NVIDIA GeForce GTX 770", "t": 8.6, "fps": 30.6},
      {"card": "NVIDIA GeForce GTX 770", "t": 9.2, "fps": 31.0},
      {"card": "NVIDIA GeForce GTX 770", "t": 10.0, "fps": 30.8},
      {"card": "NVIDIA GeForce GTX 770", "t": 10.3, "fps": 29.65},
      {"card": "NVIDIA GeForce GTX 770", "t": 10.4, "fps": 30.9},
      {"card": "NVIDIA GeForce GTX 770", "t": 10.7, "fps": 32.26},
      {"card": "NVIDIA GeForce GTX 770", "t": 11.1, "fps": 32.2},
      {"card": "NVIDIA GeForce GTX 770", "t": 11.4, "fps": 30.65},
      {"card": "NVIDIA GeForce GTX 770", "t": 12.0, "fps": 30.6},
      {"card": "NVIDIA GeForce GTX 770", "t": 12.8, "fps": 31.0},
      {"card": "NVIDIA GeForce GTX 770", "t": 13.6, "fps": 31.4},
      {"card": "NVIDIA GeForce GTX 770", "t": 14.4, "fps": 31.45},
      {"card": "NVIDIA GeForce GTX 770", "t": 15.0, "fps": 31.4},
      {"card": "NVIDIA GeForce GTX 770", "t": 15.4, "fps": 29.65},
      {"card": "NVIDIA GeForce GTX 770", "t": 15.5, "fps": 31.2},
      {"card": "NVIDIA GeForce GTX 770", "t": 15.8, "fps": 31.1},
      {"card": "NVIDIA GeForce GTX 770", "t": 16.6, "fps": 31.2},
      {"card": "NVIDIA GeForce GTX 770", "t": 17.2, "fps": 31.4},
      {"card": "NVIDIA GeForce GTX 770", "t": 17.3, "fps": 30.5},
      {"card": "NVIDIA GeForce GTX 770", "t": 17.4, "fps": 31.3},
      {"card": "NVIDIA GeForce GTX 770", "t": 17.8, "fps": 31.1},
      {"card": "NVIDIA GeForce GTX 770", "t": 18.3, "fps": 30.8},
      {"card": "NVIDIA GeForce GTX 770", "t": 18.9, "fps": 30.65},
      {"card": "NVIDIA GeForce GTX 770", "t": 19.1, "fps": 29.8},
      {"card": "NVIDIA GeForce GTX 770", "t": 19.2, "fps": 30.9},
      {"card": "NVIDIA GeForce GTX 770", "t": 19.5, "fps": 32.5},
      {"card": "NVIDIA GeForce GTX 770", "t": 19.9, "fps": 32.26},
      {"card": "NVIDIA GeForce GTX 770", "t": 20.3, "fps": 31.4},
      {"card": "NVIDIA GeForce GTX 770", "t": 20.6, "fps": 30.5},
      {"card": "NVIDIA GeForce GTX 770", "t": 20.9, "fps": 28.8},
      {"card": "NVIDIA GeForce GTX 770", "t": 21.1, "fps": 30.35},
      {"card": "NVIDIA GeForce GTX 770", "t": 21.7, "fps": 30.5},
      {"card": "NVIDIA GeForce GTX 770", "t": 22.3, "fps": 30.95},
      {"card": "NVIDIA GeForce GTX 770", "t": 22.9, "fps": 31.5},
      {"card": "NVIDIA GeForce GTX 770", "t": 23.5, "fps": 32.4},
      {"card": "NVIDIA GeForce GTX 770", "t": 24.0, "fps": 32.8},
      {"card": "NVIDIA GeForce GTX 770", "t": 24.5, "fps": 33.3},
      {"card": "NVIDIA GeForce GTX 770", "t": 25.4, "fps": 33.4},
      {"card": "NVIDIA GeForce GTX 770", "t": 26.0, "fps": 33.1},
      {"card": "NVIDIA GeForce GTX 770", "t": 26.9, "fps": 33.1},
      {"card": "NVIDIA GeForce GTX 770", "t": 27.4, "fps": 32.9},
      {"card": "NVIDIA GeForce GTX 770", "t": 27.5, "fps": 31.65},
      {"card": "NVIDIA GeForce GTX 770", "t": 27.6, "fps": 32.9},
      {"card": "NVIDIA GeForce GTX 770", "t": 27.8, "fps": 33.3},
      {"card": "NVIDIA GeForce GTX 770", "t": 28.7, "fps": 33.3},
      {"card": "NVIDIA GeForce GTX 770", "t": 29.0, "fps": 33.4},
      {"card": "NVIDIA GeForce GTX 770", "t": 29.4, "fps": 34.0},
      {"card": "NVIDIA GeForce GTX 770", "t": 30.0, "fps": 33.7},
      {"card": "NVIDIA GeForce GTX 770", "t": 30.5, "fps": 33.1},
      {"card": "NVIDIA GeForce GTX 770", "t": 30.8, "fps": 33.8},
      {"card": "NVIDIA GeForce GTX 770", "t": 31.1, "fps": 31.8},
      {"card": "NVIDIA GeForce GTX 770", "t": 31.2, "fps": 33.6},
      {"card": "NVIDIA GeForce GTX 770", "t": 31.4, "fps": 33.8},
      {"card": "NVIDIA GeForce GTX 770", "t": 31.8, "fps": 34.1},
      {"card": "NVIDIA GeForce GTX 770", "t": 32.1, "fps": 33.7},
      {"card": "NVIDIA GeForce GTX 770", "t": 32.4, "fps": 35.7},
      {"card": "NVIDIA GeForce GTX 770", "t": 32.9, "fps": 37.2},
      {"card": "NVIDIA GeForce GTX 770", "t": 33.5, "fps": 37.6},
      {"card": "NVIDIA GeForce GTX 770", "t": 34.0, "fps": 37.5},
      {"card": "NVIDIA GeForce GTX 770", "t": 34.2, "fps": 36.3},
      {"card": "NVIDIA GeForce GTX 770", "t": 34.5, "fps": 34.1},
      {"card": "NVIDIA GeForce GTX 770", "t": 34.8, "fps": 35.1},
      {"card": "NVIDIA GeForce GTX 770", "t": 35.2, "fps": 35.9},
      {"card": "NVIDIA GeForce GTX 770", "t": 35.3, "fps": 33.8},
      {"card": "NVIDIA GeForce GTX 770", "t": 35.5, "fps": 36.3},
      {"card": "NVIDIA GeForce GTX 770", "t": 35.9, "fps": 35.1},
      {"card": "NVIDIA GeForce GTX 770", "t": 36.0, "fps": 36.0},
      {"card": "NVIDIA GeForce GTX 770", "t": 36.3, "fps": 36.4},
      {"card": "NVIDIA GeForce GTX 770", "t": 36.9, "fps": 35.9},
      {"card": "NVIDIA GeForce GTX 770", "t": 37.3, "fps": 34.9},
      {"card": "NVIDIA GeForce GTX 770", "t": 37.9, "fps": 35.3},
      {"card": "NVIDIA GeForce GTX 770", "t": 38.3, "fps": 34.3},
      {"card": "NVIDIA GeForce GTX 770", "t": 38.7, "fps": 34.0},
      {"card": "NVIDIA GeForce GTX 770", "t": 38.9, "fps": 32.8},
      {"card": "NVIDIA GeForce GTX 770", "t": 39.3, "fps": 32.26},
      {"card": "NVIDIA GeForce GTX 770", "t": 39.7, "fps": 31.4},
      {"card": "NVIDIA GeForce GTX 770", "t": 39.8, "fps": 30.6},
      {"card": "NVIDIA GeForce GTX 770", "t": 39.9, "fps": 31.4},
      {"card": "NVIDIA GeForce GTX 770", "t": 40.1, "fps": 29.9},
      {"card": "NVIDIA GeForce GTX 770", "t": 40.5, "fps": 27.7},
      {"card": "NVIDIA GeForce GTX 770", "t": 41.1, "fps": 26.9},
      {"card": "NVIDIA GeForce GTX 770", "t": 41.7, "fps": 26.45},
      {"card": "NVIDIA GeForce GTX 770", "t": 42.2, "fps": 26.3},
      {"card": "NVIDIA GeForce GTX 770", "t": 42.4, "fps": 27.6},
      {"card": "NVIDIA GeForce GTX 770", "t": 42.7, "fps": 28.0},
      {"card": "NVIDIA GeForce GTX 770", "t": 43.1, "fps": 29.2},
      {"card": "NVIDIA GeForce GTX 770", "t": 43.5, "fps": 28.8},
      {"card": "NVIDIA GeForce GTX 770", "t": 43.9, "fps": 28.0},
      {"card": "NVIDIA GeForce GTX 770", "t": 44.3, "fps": 26.6},
      {"card": "NVIDIA GeForce GTX 770", "t": 44.7, "fps": 27.9},
      {"card": "NVIDIA GeForce GTX 770", "t": 45.3, "fps": 29.05},
      {"card": "NVIDIA GeForce GTX 770", "t": 46.1, "fps": 28.8},
      {"card": "NVIDIA GeForce GTX 770", "t": 46.7, "fps": 29.5},
      {"card": "NVIDIA GeForce GTX 770", "t": 47.3, "fps": 29.9},
      {"card": "NVIDIA GeForce GTX 770", "t": 47.9, "fps": 30.2},
      {"card": "NVIDIA GeForce GTX 770", "t": 48.3, "fps": 29.65},
      {"card": "NVIDIA GeForce GTX 770", "t": 49.1, "fps": 29.8},
      {"card": "NVIDIA GeForce GTX 770", "t": 49.5, "fps": 28.9},
      {"card": "NVIDIA GeForce GTX 770", "t": 50.3, "fps": 28.8},
      {"card": "NVIDIA GeForce GTX 770", "t": 51.1, "fps": 28.8},
      {"card": "NVIDIA GeForce GTX 770", "t": 51.5, "fps": 32.5},
      {"card": "NVIDIA GeForce GTX 770", "t": 52.1, "fps": 32.26},
      {"card": "NVIDIA GeForce GTX 770", "t": 52.5, "fps": 32.3},
      {"card": "NVIDIA GeForce GTX 770", "t": 52.7, "fps": 33.3},
      {"card": "NVIDIA GeForce GTX 770", "t": 53.0, "fps": 34.0},
      {"card": "NVIDIA GeForce GTX 770", "t": 53.1, "fps": 32.5},
      {"card": "NVIDIA GeForce GTX 770", "t": 53.3, "fps": 32.1},
      {"card": "NVIDIA GeForce GTX 770", "t": 53.5, "fps": 30.5},
      {"card": "NVIDIA GeForce GTX 770", "t": 53.9, "fps": 31.5},
      {"card": "NVIDIA GeForce GTX 770", "t": 54.4, "fps": 31.2},
      {"card": "NVIDIA GeForce GTX 770", "t": 54.7, "fps": 33.4},
      {"card": "NVIDIA GeForce GTX 770", "t": 55.0, "fps": 33.4},
      {"card": "NVIDIA GeForce GTX 770", "t": 55.5, "fps": 35.0},
      {"card": "NVIDIA GeForce GTX 770", "t": 55.9, "fps": 34.7},
      {"card": "NVIDIA GeForce GTX 770", "t": 56.2, "fps": 33.1},
      {"card": "NVIDIA GeForce GTX 770", "t": 56.7, "fps": 34.0},
      {"card": "NVIDIA GeForce GTX 770", "t": 57.3, "fps": 34.6},
      {"card": "NVIDIA GeForce GTX 770", "t": 57.5, "fps": 35.0},
      {"card": "NVIDIA GeForce GTX 770", "t": 58.1, "fps": 36.0},
      {"card": "NVIDIA GeForce GTX 770", "t": 58.6, "fps": 35.4},
      {"card": "NVIDIA GeForce GTX 770", "t": 59.1, "fps": 35.9},
      {"card": "NVIDIA GeForce GTX 770", "t": 59.5, "fps": 36.4},
      {"card": "NVIDIA GeForce GTX 770", "t": 59.7, "fps": 37.0},
      {"card": "NVIDIA GeForce GTX 770", "t": 60.1, "fps": 36.6}
    ]
  },
  "resolve": {"axis": {"x": "independent", "y": "independent"}},
  "layer": [
    {
      "mark": {"type": "line", "strokeWidth": 1.7, "interpolate": "linear"},
      "encoding": {
        "x": {
          "field": "t",
          "type": "quantitative",
          "scale": {"domain": [0, 70], "nice": false, "zero": false},
          "axis": {
            "title": "Tempo (s)",
            "values": [0, 10, 20, 30, 40, 50, 60, 70],
            "grid": true,
            "tickSize": -7,
            "labelPadding": 19,
            "titlePadding": 15,
            "labelFlush": false
          }
        },
        "y": {
          "field": "fps",
          "type": "quantitative",
          "scale": {"domain": [20, 45], "nice": false, "zero": false},
          "axis": {
            "title": "FPS",
            "values": [20, 25, 30, 35, 40, 45],
            "grid": true,
            "tickSize": -7,
            "labelPadding": 23,
            "titlePadding": 14,
            "labelFlush": false
          }
        },
        "color": {
          "field": "card",
          "type": "nominal",
          "sort": ["AMD Radeon HD 7970 GHz Edition", "AMD Radeon R9 280X", "NVIDIA GeForce GTX 760", "NVIDIA GeForce GTX 770"],
          "scale": {
            "domain": ["AMD Radeon HD 7970 GHz Edition", "AMD Radeon R9 280X", "NVIDIA GeForce GTX 760", "NVIDIA GeForce GTX 770"],
            "range": ["#0000ff", "#ff0000", "#000000", "#ffa500"]
          },
          "legend": {
            "title": null,
            "orient": "none",
            "legendX": 1122,
            "legendY": 9.5,
            "padding": 0,
            "symbolType": "M-3,0H3",
            "symbolSize": 225,
            "symbolStrokeWidth": 1.5,
            "symbolFillColor": "transparent",
            "labelAlign": "right",
            "labelOffset": -44,
            "labelFont": "DejaVu Sans",
            "labelFontSize": 14,
            "labelColor": "#333333",
            "labelLimit": 400,
            "rowPadding": 3
          }
        }
      }
    },
    {
      "mark": {"type": "line", "strokeOpacity": 0},
      "encoding": {
        "x": {
          "field": "t",
          "type": "quantitative",
          "axis": {"orient": "top", "labels": false, "grid": false, "title": null, "tickSize": -7, "values": [0, 10, 20, 30, 40, 50, 60, 70]}
        },
        "y": {
          "field": "fps",
          "type": "quantitative",
          "axis": {"orient": "right", "labels": false, "grid": false, "title": null, "tickSize": -7, "values": [20, 25, 30, 35, 40, 45]}
        },
        "detail": {"field": "card"}
      }
    },
    {
      "data": {"values": [{"mark": "↔"}]},
      "mark": {"type": "text", "color": "#ff0000", "fontSize": 18, "clip": false},
      "encoding": {
        "text": {"field": "mark", "type": "nominal"},
        "x": {"datum": 32.3, "type": "quantitative", "axis": null},
        "y": {"datum": 16.8, "type": "quantitative", "axis": null}
      }
    }
  ]
}
